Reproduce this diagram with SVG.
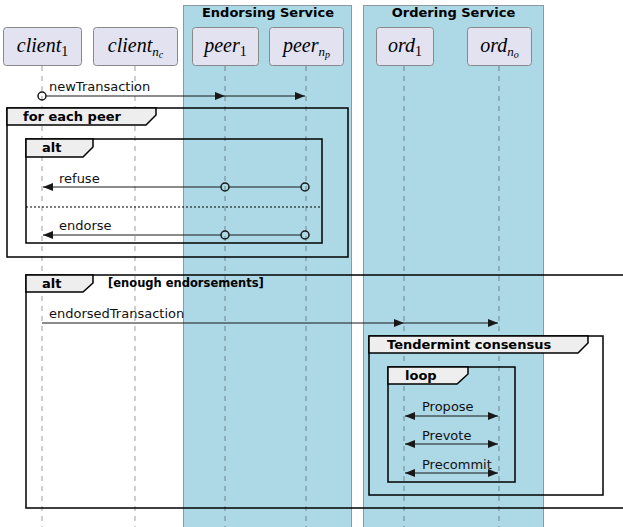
<svg xmlns="http://www.w3.org/2000/svg" width="623" height="527" viewBox="0 0 623 527">
<defs>
<style>
.box{fill:#ADD8E6;stroke:#8a9aa0;stroke-width:1}
.boxtitle{font-family:"DejaVu Sans",sans-serif;font-weight:bold;font-size:13px;fill:#000;text-anchor:middle}
.life{stroke:#000;stroke-opacity:0.38;stroke-width:1;stroke-dasharray:5,5;fill:none}
.part rect{fill:#E2E2F0;stroke:#888;stroke-width:1}
.math{font-family:"Liberation Serif",serif;font-style:italic;font-size:20px;fill:#000;text-anchor:middle}
.msg{stroke:#181818;stroke-width:1;fill:none}
.lbl{font-family:"DejaVu Sans",sans-serif;font-size:13px;fill:#111}
.frame{fill:none;stroke:#000;stroke-width:1.5}
.tab{fill:#EEEEEE;stroke:#000;stroke-width:1.5}
.ftitle{font-family:"DejaVu Sans",sans-serif;font-weight:bold;font-size:13px;fill:#000}
.guard{font-family:"DejaVu Sans",sans-serif;font-weight:bold;font-size:11.5px;fill:#000}
.circ{fill:none;stroke:#181818;stroke-width:1.5}
</style>
<marker id="ah" viewBox="0 0 10 8" refX="10" refY="4" markerWidth="10" markerHeight="8" markerUnits="userSpaceOnUse" orient="auto-start-reverse">
<path d="M0,0 L10,4 L0,8 z" fill="#181818"/>
</marker>
</defs>
<rect width="623" height="527" fill="#fff"/>

<g id="endorsing-service">
<rect class="box" x="183.5" y="5.5" width="168" height="530"/>
<text class="boxtitle" x="268" y="17">Endorsing Service</text>
</g>
<g id="ordering-service">
<rect class="box" x="363.5" y="5.5" width="180" height="530"/>
<text class="boxtitle" x="453.5" y="17">Ordering Service</text>
</g>

<g id="lifelines">
<line class="life" x1="42" y1="66" x2="42" y2="527"/>
<line class="life" x1="135" y1="66" x2="135" y2="527"/>
<line class="life" x1="225" y1="66" x2="225" y2="527"/>
<line class="life" x1="306" y1="66" x2="306" y2="527"/>
<line class="life" x1="404" y1="66" x2="404" y2="527"/>
<line class="life" x1="499" y1="66" x2="499" y2="527"/>
</g>

<g id="client1" class="part">
<rect x="3.5" y="27.5" width="78" height="38" rx="3"/>
<text class="math" x="42.5" y="52">client<tspan font-style="normal" font-size="14" dy="4">1</tspan></text>
</g>
<g id="clientnc" class="part">
<rect x="93.5" y="27.5" width="84" height="38" rx="3"/>
<text class="math" x="135.5" y="52">client<tspan font-size="13" dy="4">n</tspan><tspan font-size="10" dy="2">c</tspan></text>
</g>
<g id="peer1" class="part">
<rect x="192.5" y="27.5" width="66" height="38" rx="3"/>
<text class="math" x="225.5" y="52">peer<tspan font-style="normal" font-size="14" dy="4">1</tspan></text>
</g>
<g id="peernp" class="part">
<rect x="269.5" y="27.5" width="74" height="38" rx="3"/>
<text class="math" x="306.5" y="52">peer<tspan font-size="13" dy="4">n</tspan><tspan font-size="10" dy="2">p</tspan></text>
</g>
<g id="ord1" class="part">
<rect x="376.5" y="27.5" width="57" height="38" rx="3"/>
<text class="math" x="405" y="52">ord<tspan font-style="normal" font-size="14" dy="4">1</tspan></text>
</g>
<g id="ordno" class="part">
<rect x="467.5" y="27.5" width="64" height="38" rx="3"/>
<text class="math" x="499.5" y="52">ord<tspan font-size="13" dy="4">n</tspan><tspan font-size="10" dy="2">o</tspan></text>
</g>

<g id="frames">
<rect class="frame" x="7" y="108" width="341" height="149"/>
<path class="tab" d="M7,108 L156,108 L156,115 L146,125 L7,125 Z"/>
<text class="ftitle" x="23" y="121">for each peer</text>

<rect class="frame" x="26" y="139" width="296" height="104"/>
<path class="tab" d="M26,139 L93,139 L93,147 L83,157 L26,157 Z"/>
<text class="ftitle" x="42" y="152">alt</text>
<line x1="26" y1="207" x2="322" y2="207" stroke="#000" stroke-width="1" stroke-dasharray="2,2"/>

<rect class="frame" x="26" y="275" width="620" height="233"/>
<path class="tab" d="M26,275 L93,275 L93,283 L83,292 L26,292 Z"/>
<text class="ftitle" x="42" y="288">alt</text>
<text class="guard" x="108" y="287">[enough endorsements]</text>

<rect class="frame" x="369" y="336" width="234" height="159"/>
<path class="tab" d="M369,336 L588,336 L588,343 L578,353 L369,353 Z"/>
<text class="ftitle" x="387" y="349">Tendermint consensus</text>

<rect class="frame" x="388" y="367" width="127" height="115"/>
<path class="tab" d="M388,367 L468,367 L468,374 L457,384 L388,384 Z"/>
<text class="ftitle" x="405" y="380">loop</text>
</g>

<g id="connectors">
<text class="lbl" x="49" y="91">newTransaction</text>
<line class="msg" x1="46" y1="96" x2="225" y2="96" marker-end="url(#ah)"/>
<line class="msg" x1="225" y1="96" x2="305" y2="96" marker-end="url(#ah)"/>
<circle class="circ" cx="42" cy="96" r="4"/>

<text class="lbl" x="59" y="183">refuse</text>
<line class="msg" x1="301" y1="187" x2="229" y2="187"/>
<line class="msg" x1="221" y1="187" x2="43" y2="187" marker-end="url(#ah)"/>
<circle class="circ" cx="225" cy="187" r="4"/>
<circle class="circ" cx="305" cy="187" r="4"/>

<text class="lbl" x="59" y="230">endorse</text>
<line class="msg" x1="301" y1="235" x2="229" y2="235"/>
<line class="msg" x1="221" y1="235" x2="43" y2="235" marker-end="url(#ah)"/>
<circle class="circ" cx="225" cy="235" r="4"/>
<circle class="circ" cx="305" cy="235" r="4"/>

<text class="lbl" x="49" y="318">endorsedTransaction</text>
<line class="msg" x1="42" y1="323" x2="404" y2="323" marker-end="url(#ah)"/>
<line class="msg" x1="404" y1="323" x2="498" y2="323" marker-end="url(#ah)"/>

<text class="lbl" x="422" y="411">Propose</text>
<line class="msg" x1="405" y1="416" x2="498" y2="416" marker-start="url(#ah)" marker-end="url(#ah)"/>
<text class="lbl" x="422" y="440">Prevote</text>
<line class="msg" x1="405" y1="444" x2="498" y2="444" marker-start="url(#ah)" marker-end="url(#ah)"/>
<text class="lbl" x="422" y="469">Precommit</text>
<line class="msg" x1="405" y1="473" x2="498" y2="473" marker-start="url(#ah)" marker-end="url(#ah)"/>
</g>
</svg>
